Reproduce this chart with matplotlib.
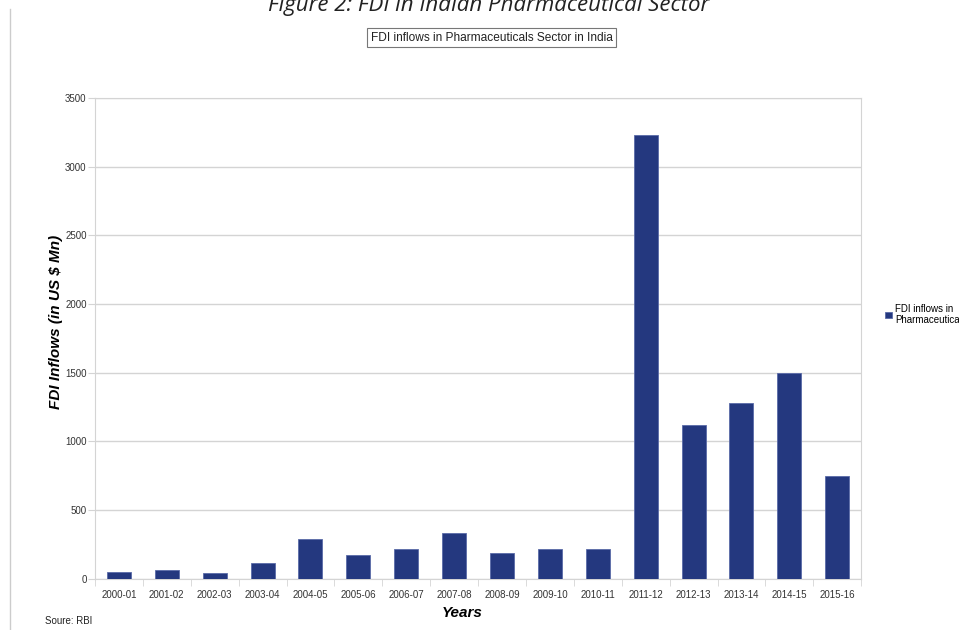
import matplotlib
matplotlib.use("Agg")
import matplotlib.pyplot as plt
from matplotlib.lines import Line2D
import numpy as np

# FDI inflows in the pharmaceutical sector in India (US $ Mn), source RBI
years = ['2000-01', '2001-02', '2002-03', '2003-04', '2004-05', '2005-06', '2006-07', '2007-08',
         '2008-09', '2009-10', '2010-11', '2011-12', '2012-13', '2013-14', '2014-15', '2015-16']
fdi_inflows = [49, 63, 44, 112, 291, 175, 218, 335, 184, 218, 214, 3233, 1120, 1280, 1500, 750]
y_ticks = [0, 500, 1000, 1500, 2000, 2500, 3000, 3500]

bar_colour = '#24387f'
grid_colour = '#d4d4d4'
text_colour = '#333333'

plt.rcParams['font.family'] = ['Liberation Sans', 'DejaVu Sans']

fig = plt.figure(figsize=(9.59, 6.3), dpi=100)
ax = fig.add_axes([0.099, 0.0814, 0.799, 0.763])

x = np.arange(len(years))
ax.bar(x, fdi_inflows, width=0.5, color=bar_colour, edgecolor='#5a6aa8', linewidth=0.6,
       label='FDI inflows in\nPharmaceuticals', zorder=3)

ax.set_xlim(-0.5, len(years) - 0.5)
ax.set_ylim(0, 3500)
ax.set_yticks(y_ticks)
ax.set_yticklabels([str(t) for t in y_ticks])
ax.yaxis.grid(True, color=grid_colour, linewidth=1.0, zorder=0)

# labels centred under bars, tick marks between the categories
ax.set_xticks(x)
ax.set_xticklabels(years)
ax.set_xticks(np.arange(-0.5, len(years)), minor=True)
ax.tick_params(axis='x', which='major', length=0, pad=8, labelsize=7, labelcolor=text_colour)
ax.tick_params(axis='x', which='minor', length=5, color=grid_colour)
ax.tick_params(axis='y', length=5, color=grid_colour, labelsize=7, labelcolor=text_colour, pad=1)

for s in ax.spines.values():
    s.set_color(grid_colour)

ax.set_xlabel('Years', fontsize=11, fontweight='bold', style='italic')
ax.xaxis.set_label_coords(0.479, -0.057)
ax.set_ylabel('FDI Inflows (in US $ Mn)', fontsize=11, fontweight='bold', style='italic')
ax.yaxis.set_label_coords(-0.042, 0.535)

ax.legend(loc='center left', bbox_to_anchor=(1.02, 0.55), frameon=False, fontsize=7,
          handlelength=0.7, handleheight=0.7, handletextpad=0.3)

# chart title in a small box
fig.text(0.513, 0.94, 'FDI inflows in Pharmaceuticals Sector in India', ha='center', va='center',
         fontsize=8.6, color='#222222',
         bbox=dict(boxstyle='square,pad=0.3', facecolor='white', edgecolor='#777777', linewidth=0.8))

# document caption, cut off at the top of the page
fig.text(0.509, 0.9825, 'Figure 2: FDI in Indian Pharmaceutical Sector', ha='center', va='baseline',
         fontsize=16, style='italic', family='Open Sans', color='#222222')

fig.text(0.047, 0.009, 'Soure: RBI', fontsize=7, color='#222222')

# page margin line on the left
fig.add_artist(Line2D([0.0105, 0.0105], [0.0, 0.985], transform=fig.transFigure,
                      color='#cccccc', linewidth=1.0))

fig.savefig('out.png', dpi=100)
